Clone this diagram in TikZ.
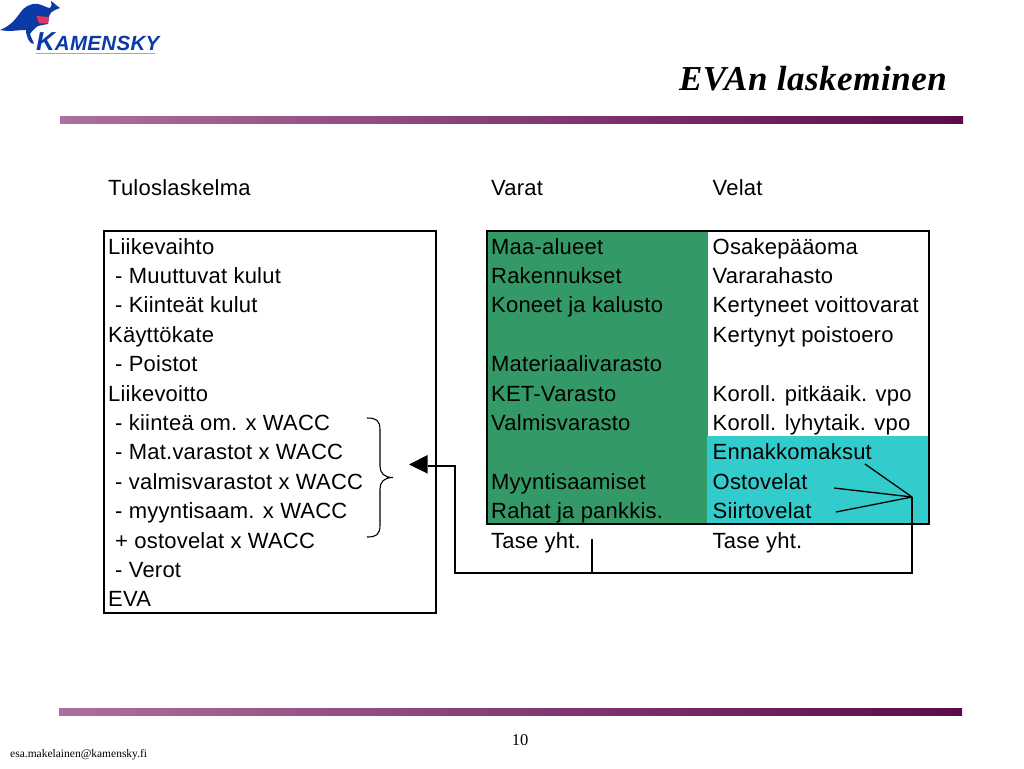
\documentclass[tikz,border=0pt]{standalone}
\usepackage{fontspec}
\setmainfont{Liberation Sans}
\newfontfamily\serifx{Liberation Serif}
\newfontfamily\bodyx[LetterSpace=1.0]{Liberation Sans}
\newfontfamily\titlex[LetterSpace=1.5]{Liberation Serif}
\newfontfamily\logox[LetterSpace=1.5]{Liberation Sans}
\usetikzlibrary{arrows.meta}
\definecolor{barL}{HTML}{AD6F9E}
\definecolor{barR}{HTML}{5C0A4C}
\definecolor{assetG}{HTML}{339966}
\definecolor{liabC}{HTML}{33CCCC}
\definecolor{logoB}{HTML}{0A3AA6}
\definecolor{logoR}{HTML}{E8345A}
\tikzset{
  x=1pt,y=-1pt,
  txt/.style={anchor=base west,inner sep=0pt,font=\bodyx\fontsize{22}{24}\selectfont},
  frame/.style={draw=black,line width=2pt},
  conn/.style={draw=black,line width=1.3pt},
  bar/.style={left color=barL,right color=barR,draw=none},
}
\begin{document}
\begin{tikzpicture}
\useasboundingbox (0,0) rectangle (1024,768);
% bars
\fill[bar] (60,116) rectangle (963,123);
\fill[bar] (59,708) rectangle (962,715);
% title
\node[anchor=base east,inner sep=0pt,font=\titlex\fontsize{35}{38}\selectfont\bfseries\itshape] (title) at (947,90) {EVAn laskeminen};
% logo
\fill[logoB] (0,30) .. controls (10,26) and (15,20) .. (20,13) .. controls (24,7) and (30,3) .. (38,4) .. controls (43,5) and (47,8) .. (50,8) .. controls (52,7) and (52,4) .. (51,1) .. controls (53,2) and (55,4) .. (56,5) -- (60,8) -- (55,10) .. controls (52,11) and (50,13) .. (49,17) -- (48,24) -- (38,26) .. controls (35,28) and (32,31) .. (30,34) .. controls (31,38) and (33,40) .. (34,44) -- (31,43) .. controls (28,40) and (27,37) .. (26.5,34) .. controls (26,33) and (26,32) .. (26,30) .. controls (18,30) and (10,32) .. (0,30) -- cycle;
\fill[logoR] (36.5,16) -- (49,17) -- (48,23.5) -- (39,23.5) -- cycle;
\node[anchor=base west,inner sep=0pt,text=logoB,font=\logox\fontsize{26}{28}\selectfont\bfseries\itshape] (logo) at (36,50) {K\fontsize{20.5}{24}\selectfont AMENSKY};
\draw[logoR!60,line width=.8pt] (36,53) -- (155,53);
% column headings
\node[txt] (h1) at (108,195) {Tuloslaskelma};
\node[txt] (h2) at (491,195) {Varat};
\node[txt] (h3) at (712.5,195) {Velat};
% fills
\fill[assetG] (487,231) rectangle (708,524);
\fill[liabC] (707,436) rectangle (929,524);
% frames
\draw[frame] (104,231) rectangle (436,612.5);
\draw[frame] (487,231) rectangle (929,524);
% left list
\foreach \n/\y/\x/\t in {
 a/254/108/{Liikevaihto},
 b/283.4/115/{- Muuttuvat kulut},
 c/312.8/115/{- Kiinteät kulut},
 d/342.2/108/{Käyttökate},
 e/371.6/115/{- Poistot},
 f/401/108/{Liikevoitto},
 g/430.4/115/{- kiinteä om. x WACC},
 h/459.8/115/{- Mat.varastot x WACC},
 i/489.2/115/{- valmisvarastot x WACC},
 j/518.6/115/{- myyntisaam. x WACC},
 k/548/115/{+ ostovelat x WACC},
 l/577.4/115/{- Verot},
 m/606.8/108/{EVA}}
 {\node[txt] (L\n) at (\x,\y) {\t};}
% assets
\foreach \n/\y/\t in {
 a/254/{Maa-alueet},
 b/283.4/{Rakennukset},
 c/312.8/{Koneet ja kalusto},
 e/371.6/{Materiaalivarasto},
 f/401/{KET-Varasto},
 g/430.4/{Valmisvarasto},
 i/489.2/{Myyntisaamiset},
 j/518.6/{Rahat ja pankkis.},
 k/548/{Tase yht.}}
 {\node[txt] (A\n) at (491,\y) {\t};}
% liabilities
\foreach \n/\y/\t in {
 a/254/{Osakepääoma},
 b/283.4/{Vararahasto},
 c/312.8/{Kertyneet voittovarat},
 d/342.2/{Kertynyt poistoero},
 f/401/{Koroll. pitkäaik. vpo},
 g/430.4/{Koroll. lyhytaik. vpo},
 h/459.8/{Ennakkomaksut},
 i/489.2/{Ostovelat},
 j/518.6/{Siirtovelat},
 k/548/{Tase yht.}}
 {\node[txt] (V\n) at (712.5,\y) {\t};}
% brace
\coordinate (bt) at (367,418);
\coordinate (bb) at (367,537);
\coordinate (bm) at (393,477.5);
\draw[line width=1.1pt] (bt) .. controls (376,418) and (380,420) .. (380,430) -- (380,466) .. controls (380,473) and (384,477.5) .. (bm) .. controls (384,477.5) and (380,482) .. (380,489) -- (380,525) .. controls (380,535) and (376,537) .. (bb);
% connectors
\coordinate (e1) at (865,464);
\coordinate (e2) at (834,488);
\coordinate (e3) at (836,512);
\coordinate (hub) at (912,497);
\coordinate (hubdown) at (912,574);
\coordinate (t1) at (592,539);
\coordinate (t2) at (592,573);
\coordinate (c1) at (455,573);
\coordinate (c2) at (455,466);
\coordinate (tip) at (409,464.5);
\draw[conn] (e1) -- (hub);
\draw[conn] (e2) -- (hub);
\draw[conn] (e3) -- (hub);
\draw[conn] (hub) -- (hubdown);
\draw[conn] (t1) -- (t2);
\draw[conn,line width=1.1pt] (hubdown |- t2) -- (c1) -- (c2) -- (428,466);
\fill[black] (tip) -- (427.5,455) -- (427.5,473.5) -- cycle;
% footer
\node[anchor=base,inner sep=0pt,font=\serifx\fontsize{16.5}{18}\selectfont] (pg) at (520,745) {10};
\node[anchor=base west,inner sep=0pt,font=\serifx\fontsize{11.5}{13}\selectfont] (mail) at (10,757) {esa.makelainen@kamensky.fi};
\end{tikzpicture}
\end{document}
